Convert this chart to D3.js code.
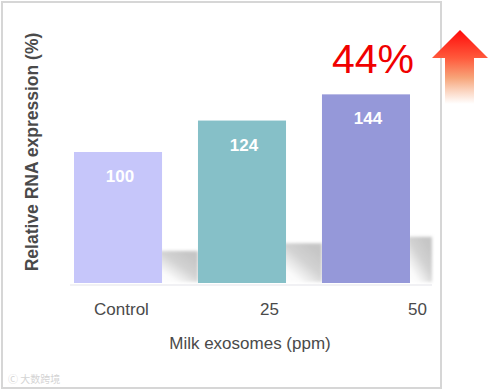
<!DOCTYPE html>
<meta charset="utf-8">
<style>
    body { margin: 0; background: #fff; }
    text { font-family: "Liberation Sans", Arial, Helvetica, sans-serif; }
</style>
<body>
<script src="https://cdn.jsdelivr.net/npm/d3@7"></script>
<script>

    var groups = ["Control", "25", "50"],
        expression = [100, 124, 144],
        barColors = ["#c6c6fa", "#86c0c8", "#9598d9"],
        increaseLabel = "44%";

    var width = 490, height = 392,
        baseY = 283;

    var svg = d3.select("body").append("svg")
        .attr("width", width)
        .attr("height", height);

    var defs = svg.append("defs");

    var shadowGrad = defs.append("linearGradient")
        .attr("id", "shadow")
        .attr("x1", 0).attr("y1", 1).attr("x2", 0.75).attr("y2", 0.1);
    shadowGrad.append("stop").attr("offset", 0).attr("stop-color", "#fff");
    shadowGrad.append("stop").attr("offset", 0.25).attr("stop-color", "#fafafa");
    shadowGrad.append("stop").attr("offset", 0.65).attr("stop-color", "#d2d2d2");
    shadowGrad.append("stop").attr("offset", 1).attr("stop-color", "#c6c6c6");

    var arrowGrad = defs.append("linearGradient")
        .attr("id", "arrow")
        .attr("x1", 0).attr("y1", 0).attr("x2", 0).attr("y2", 1);
    arrowGrad.append("stop").attr("offset", 0).attr("stop-color", "#ff0a0a");
    arrowGrad.append("stop").attr("offset", 0.38).attr("stop-color", "#ff5a3c");
    arrowGrad.append("stop").attr("offset", 0.65).attr("stop-color", "#f7a57a");
    arrowGrad.append("stop").attr("offset", 1).attr("stop-color", "#fff").attr("stop-opacity", 0.9);

    defs.append("filter").attr("id", "soft")
        .append("feGaussianBlur").attr("stdDeviation", 1.5);

    // frame
    svg.append("rect")
        .attr("x", 2).attr("y", 2)
        .attr("width", 439).attr("height", 386)
        .attr("fill", "none")
        .attr("stroke", "#d6d6d6")
        .attr("stroke-width", 2);

    var x = d3.scaleBand()
        .domain(groups)
        .range([74, 410])
        .paddingInner(0.29)
        .paddingOuter(0);

    var xLabel = d3.scalePoint()
        .domain(groups)
        .range([121, 417]);

    var y = d3.scaleLinear()
        .domain([0, 200])
        .range([baseY, 21]);

    // floor line
    svg.append("line")
        .attr("x1", 70).attr("x2", 432)
        .attr("y1", baseY + 2).attr("y2", baseY + 2)
        .attr("stroke", "#f1f1f4")
        .attr("stroke-width", 2);

    // shadows
    svg.selectAll(".shadow")
        .data(expression)
        .enter().append("rect")
        .attr("class", "shadow")
        .attr("x", function(d, i) { return x(groups[i]) + x.bandwidth() - 2; })
        .attr("y", function(d) { return baseY - (baseY - y(d)) * 0.245; })
        .attr("width", function(d, i) {
            return Math.min(38, 432 - (x(groups[i]) + x.bandwidth() - 2));
        })
        .attr("height", function(d) { return (baseY - y(d)) * 0.245 - 1; })
        .attr("fill", "url(#shadow)")
        .attr("filter", "url(#soft)");

    // bars
    svg.selectAll(".bar")
        .data(expression)
        .enter().append("rect")
        .attr("class", "bar")
        .attr("x", function(d, i) { return x(groups[i]); })
        .attr("y", function(d) { return y(d); })
        .attr("width", x.bandwidth())
        .attr("height", function(d) { return baseY - y(d); })
        .attr("fill", function(d, i) { return barColors[i]; });

    svg.selectAll(".value")
        .data(expression)
        .enter().append("text")
        .attr("class", "value")
        .attr("x", function(d, i) { return x(groups[i]) + x.bandwidth() / 2 + 2; })
        .attr("y", function(d) { return y(d) + 30; })
        .attr("text-anchor", "middle")
        .attr("fill", "#fff")
        .style("font-size", "17px")
        .style("font-weight", "bold")
        .text(function(d) { return d; });

    // x axis labels (no line)
    var xAxis = svg.append("g")
        .attr("transform", "translate(0," + 298 + ")")
        .call(d3.axisBottom(xLabel).tickSize(0).tickPadding(0));
    xAxis.select(".domain").remove();
    xAxis.selectAll("text")
        .attr("dy", "1em")
        .attr("fill", "#4a4a4a")
        .style("font-size", "17px")
        .style("font-family", "'Liberation Sans', Arial, sans-serif");

    svg.append("text")
        .attr("x", 250).attr("y", 349)
        .attr("text-anchor", "middle")
        .attr("fill", "#4a4a4a")
        .style("font-size", "17px")
        .text("Milk exosomes (ppm)");

    svg.append("text")
        .attr("transform", "translate(38,152) rotate(-90)")
        .attr("text-anchor", "middle")
        .attr("fill", "#4a4a4a")
        .style("font-size", "17.5px")
        .style("font-weight", "bold")
        .text("Relative RNA expression (%)");

    svg.append("text")
        .attr("x", 373).attr("y", 73)
        .attr("text-anchor", "middle")
        .attr("fill", "#f00000")
        .style("font-size", "41px")
        .text(increaseLabel);

    // arrow
    svg.append("path")
        .attr("d", "M460,30 L488,58 L474,58 L474,104 L445,104 L445,58 L432,58 Z")
        .attr("fill", "url(#arrow)");

    // watermark
    svg.append("text")
        .attr("x", 8).attr("y", 383)
        .attr("fill", "#d4d4d4")
        .style("font-size", "10px")
        .style("font-family", "'Noto Sans CJK SC', sans-serif")
        .text("\u24b8 大数跨境");

</script>
